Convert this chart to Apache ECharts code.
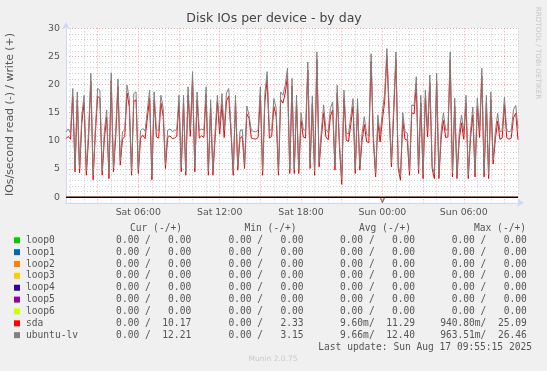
<!DOCTYPE html>
<html><head><meta charset="utf-8">
<script src="https://cdn.jsdelivr.net/npm/echarts@6/dist/echarts.min.js"></script>
<style>html,body{margin:0;padding:0;background:#f0f0f0}#c{width:547px;height:371px}</style>
</head><body><div id="c"></div>
<script>
// time axis: minutes since Sat 00:00; samples every 10 minutes from Sat 00:40
const START_MIN = 40;
const STEP_MIN = 10;
const END_MIN = 2040;
const xTickLabels = {360: 'Sat 06:00', 720: 'Sat 12:00', 1080: 'Sat 18:00', 1440: 'Sun 00:00', 1800: 'Sun 06:00'};
const yTickLabels = [0, 5, 10, 15, 20, 25, 30];

// ubuntu-lv write IOs/s
const lvWrite = [
 11.6,12.1,11.4,19.3,5.2,18.7,5.0,14.6,18.1,4.6,
 11.8,22.0,3.9,12.3,19.3,19.0,4.6,11.8,15.5,4.0,
 22.1,5.2,11.9,21.0,6.4,11.6,12.0,19.9,17.5,4.6,
 18.4,18.7,4.9,11.8,12.2,11.7,15.5,19.0,3.8,18.7,
 12.0,11.8,18.1,15.8,5.8,11.9,12.1,11.7,11.8,12.0,
 18.1,5.2,18.1,4.6,19.6,12.0,22.3,5.2,18.7,11.8,
 12.1,11.9,19.6,4.6,17.3,4.6,11.8,18.1,12.4,18.4,
 11.9,18.5,19.3,12.5,4.6,18.1,5.5,11.8,12.0,5.8,
 16.2,14.5,11.8,11.7,11.6,11.9,19.6,4.6,18.4,22.3,
 11.8,12.0,17.5,15.8,4.6,18.7,18.1,19.9,22.9,4.9,
 21.1,4.9,18.1,4.9,15.0,12.0,11.8,24.0,5.8,18.0,
 4.6,25.8,6.1,11.9,16.4,12.0,11.5,15.8,16.9,5.5,
 19.9,9.6,3.2,19.0,11.4,11.2,14.3,17.5,4.9,17.5,
 5.5,11.3,14.3,11.2,10.9,25.5,11.0,4.3,14.6,11.0,
 15.2,18.4,26.4,15.8,6.1,16.2,25.8,5.8,3.7,15.0,
 11.6,11.4,4.6,16.4,16.2,21.4,4.9,18.1,4.0,19.0,
 12.0,21.7,5.8,4.0,22.0,4.0,11.8,15.0,11.9,12.0,
 25.8,4.3,17.6,4.0,11.5,14.6,11.6,18.1,4.0,11.8,
 16.0,4.3,17.6,11.9,22.9,4.3,18.1,4.0,18.7,6.6,
 11.7,14.9,11.6,11.8,17.8,11.9,11.6,11.8,15.5,16.3,
 12.2
];
// sda write IOs/s
const sdaWrite = [
 10.4,10.8,10.3,17.9,4.5,17.3,4.3,13.2,16.8,3.9,
 10.6,20.6,3.1,11.4,17.9,17.6,3.9,10.5,14.2,3.3,
 20.7,4.5,10.7,19.6,5.7,10.3,10.8,18.5,16.1,3.9,
 17.0,17.3,4.2,10.5,11.0,10.4,14.1,17.6,3.1,17.3,
 10.7,10.5,16.7,14.4,5.1,10.6,10.9,10.4,10.5,10.8,
 16.7,4.5,16.7,3.9,18.2,10.8,20.9,4.5,17.3,10.5,
 10.9,10.6,18.2,3.9,15.9,3.9,10.5,16.9,11.2,16.5,
 10.6,17.1,17.9,11.4,3.9,16.7,4.8,10.5,10.8,5.1,
 14.8,14.0,10.5,10.4,10.3,10.6,18.2,3.9,17.0,20.9,
 10.5,10.8,16.1,14.4,3.9,17.3,16.7,18.5,21.5,4.2,
 19.7,4.2,16.7,4.2,13.6,10.7,10.5,22.6,5.1,16.6,
 3.9,24.4,5.4,10.6,15.0,10.7,10.2,14.4,15.5,4.8,
 18.5,8.8,2.3,17.6,10.1,9.9,12.9,16.1,4.2,16.1,
 4.8,10.0,12.9,9.9,9.7,24.1,9.8,3.6,13.2,9.8,
 13.8,17.0,25.1,14.4,5.4,14.8,24.4,5.1,3.0,13.6,
 10.3,10.1,3.9,15.0,14.8,20.0,4.2,16.7,3.3,17.6,
 10.7,20.3,5.1,3.3,20.6,3.3,10.5,13.6,10.6,10.7,
 24.4,3.6,16.2,3.3,10.2,13.2,10.3,16.7,3.3,10.5,
 14.6,3.6,16.2,10.6,21.5,3.6,16.7,3.3,17.3,5.9,
 10.4,13.5,10.3,10.5,16.4,10.6,10.3,10.5,14.1,14.9,
 10.2
];
// read IOs/s (drawn below zero)
const sdaRead = [
 0,0,0,0,0,0,0,0,0,0, 0,0,0,0,0,0,0,0,0,0, 0,0,0,0,0,0,0,0,0,0, 0,0,0,0,0,0,0,0,0,0,
 0,0,0,0,0,0,0,0,0,0, 0,0,0,0,0,0,0,0,0,0, 0,0,0,0,0,0,0,0,0,0, 0,0,0,0,0,0,0,0,0,0,
 0,0,0,0,0,0,0,0,0,0, 0,0,0,0,0,0,0,0,0,0, 0,0,0,0,0,0,0,0,0,0, 0,0,0,0,0,0,0,0,0,0,
 0,0,0,0,0,0,0,0,0,0, 0,0,0,0,0,0,0,0,0,0, 0.94,0,0,0,0,0,0,0,0,0, 0,0,0,0,0,0,0,0,0,0,
 0,0,0,0,0,0,0,0,0,0, 0,0,0,0,0,0,0,0,0,0, 0,0,0,0,0,0,0,0,0,0, 0,0,0,0,0,0,0,0,0,0,
 0
];
const lvRead = [
 0,0,0,0,0,0,0,0,0,0, 0,0,0,0,0,0,0,0,0,0, 0,0,0,0,0,0,0,0,0,0, 0,0,0,0,0,0,0,0,0,0,
 0,0,0,0,0,0,0,0,0,0, 0,0,0,0,0,0,0,0,0,0, 0,0,0,0,0,0,0,0,0,0, 0,0,0,0,0,0,0,0,0,0,
 0,0,0,0,0,0,0,0,0,0, 0,0,0,0,0,0,0,0,0,0, 0,0,0,0,0,0,0,0,0,0, 0,0,0,0,0,0,0,0,0,0,
 0,0,0,0,0,0,0,0,0,0, 0,0,0,0,0,0,0,0,0,0, 0.96,0,0,0,0,0,0,0,0,0, 0,0,0,0,0,0,0,0,0,0,
 0,0,0,0,0,0,0,0,0,0, 0,0,0,0,0,0,0,0,0,0, 0,0,0,0,0,0,0,0,0,0, 0,0,0,0,0,0,0,0,0,0,
 0
];
// loop devices: idle all day
const loopValues = [
 0,0,0,0,0,0,0,0,0,0, 0,0,0,0,0,0,0,0,0,0, 0,0,0,0,0,0,0,0,0,0, 0,0,0,0,0,0,0,0,0,0,
 0,0,0,0,0,0,0,0,0,0, 0,0,0,0,0,0,0,0,0,0, 0,0,0,0,0,0,0,0,0,0, 0,0,0,0,0,0,0,0,0,0,
 0,0,0,0,0,0,0,0,0,0, 0,0,0,0,0,0,0,0,0,0, 0,0,0,0,0,0,0,0,0,0, 0,0,0,0,0,0,0,0,0,0,
 0,0,0,0,0,0,0,0,0,0, 0,0,0,0,0,0,0,0,0,0, 0,0,0,0,0,0,0,0,0,0, 0,0,0,0,0,0,0,0,0,0,
 0,0,0,0,0,0,0,0,0,0, 0,0,0,0,0,0,0,0,0,0, 0,0,0,0,0,0,0,0,0,0, 0,0,0,0,0,0,0,0,0,0,
 0
];

// legend table
const deviceNames = ['loop0','loop1','loop2','loop3','loop4','loop5','loop6','sda','ubuntu-lv'];
const deviceColors = ['#00cc00','#0066b3','#ff8000','#ffcc00','#330099','#990099','#ccff00','#ff0000','#808080'];
const curRead  = [0,0,0,0,0,0,0,0,0];
const curWrite = [0,0,0,0,0,0,0,10.17,12.21];
const minRead  = [0,0,0,0,0,0,0,0,0];
const minWrite = [0,0,0,0,0,0,0,2.33,3.15];
const avgRead  = [0,0,0,0,0,0,0,0.00960,0.00966];
const avgWrite = [0,0,0,0,0,0,0,11.29,12.40];
const maxRead  = [0,0,0,0,0,0,0,0.94080,0.96351];
const maxWrite = [0,0,0,0,0,0,0,25.09,26.46];
const colHeaders = ['Cur (-/+)','Min (-/+)','Avg (-/+)','Max (-/+)'];
const titleText = 'Disk IOs per device - by day';
const yAxisTitle = 'IOs/second read (-) / write (+)';
const lastUpdate = 'Last update: Sun Aug 17 09:55:15 2025';
const vendorText = 'RRDTOOL / TOBI OETIKER';
const footerText = 'Munin 2.0.75';

function xy(arr, sign) {
  return arr.map((v, i) => [START_MIN + i * STEP_MIN, sign * v]);
}
function fmtRead(v) {
  if (v !== 0 && Math.abs(v) < 1) return (v * 1000).toFixed(2) + 'm';
  return v.toFixed(2) + ' ';
}
function fmtWrite(v) {
  return v.toFixed(2).padStart(7, ' ');
}
function cell(r, w) { return fmtRead(r) + '/' + fmtWrite(w); }

const chart = echarts.init(document.getElementById('c'), null, {renderer: 'canvas'});

const MINOR = 'rgba(190,190,190,0.75)';
const MAJOR = 'rgba(255,120,120,0.7)';
const NONE = 'rgba(0,0,0,0)';
const TEXT = '#555';
const MONO = '9.6px "DejaVu Sans Mono"';

const series = [];
deviceNames.slice(0, 7).forEach((n, k) => {
  series.push({name: n, type: 'line', data: xy(loopValues, 1), showSymbol: false,
    lineStyle: {width: 1, color: deviceColors[k]}, itemStyle: {color: deviceColors[k]}, silent: true});
});
series.push({name: 'sda read', type: 'line', data: xy(sdaRead, -1), showSymbol: false,
  lineStyle: {width: 1, color: deviceColors[7]}, silent: true});
series.push({name: 'ubuntu-lv read', type: 'line', data: xy(lvRead, -1), showSymbol: false,
  lineStyle: {width: 1, color: deviceColors[8]}, silent: true});
series.push({name: 'sda', type: 'line', data: xy(sdaWrite, 1), showSymbol: false,
  lineStyle: {width: 1, color: deviceColors[7]}, silent: true});
series.push({name: 'ubuntu-lv', type: 'line', data: xy(lvWrite, 1), showSymbol: false,
  lineStyle: {width: 1, color: deviceColors[8]}, silent: true,
  markLine: {silent: true, symbol: ['none','none'], label: {show: false},
    lineStyle: {color: '#000', width: 1, type: 'solid'}, data: [{yAxis: 0}]}});

// graphics: title, axis title, legend table
const g = [];
g.push({type: 'text', x: 274, y: 19, style: {text: titleText, font: '12.5px "DejaVu Sans"', fill: '#444',
  align: 'center', verticalAlign: 'middle', textAlign: 'center', textVerticalAlign: 'middle'}});
g.push({type: 'text', x: 10.5, y: 114.5, rotation: Math.PI / 2, style: {text: yAxisTitle, font: '10.9px "DejaVu Sans"', fill: TEXT,
  align: 'center', verticalAlign: 'middle', textAlign: 'center', textVerticalAlign: 'middle'}});
g.push({type: 'text', x: 538, y: 53, rotation: -Math.PI / 2, style: {text: vendorText, font: '7.2px "DejaVu Sans"', fill: '#c8c8c8',
  align: 'center', verticalAlign: 'middle', textAlign: 'center', textVerticalAlign: 'middle'}});
const headerEnds = [182, 296.5, 411, 526];
const colEnds = [191.2, 303.5, 415.1, 526.8];
const headerY = 228.5, rowY0 = 240.3, rowH = 11.86;
colHeaders.forEach((h, c) => {
  g.push({type: 'text', x: headerEnds[c], y: headerY, style: {text: h, font: MONO, fill: TEXT,
    align: 'right', verticalAlign: 'middle', textAlign: 'right', textVerticalAlign: 'middle'}});
});
deviceNames.forEach((n, r) => {
  const y = rowY0 + r * rowH;
  g.push({type: 'rect', shape: {x: 14, y: y - 3, width: 6, height: 6}, style: {fill: deviceColors[r]}});
  g.push({type: 'text', x: 26, y: y, style: {text: n, font: MONO, fill: TEXT,
    align: 'left', verticalAlign: 'middle', textAlign: 'left', textVerticalAlign: 'middle'}});
  const cells = [cell(curRead[r], curWrite[r]), cell(minRead[r], minWrite[r]),
                 cell(avgRead[r], avgWrite[r]), cell(maxRead[r], maxWrite[r])];
  cells.forEach((t, c) => {
    g.push({type: 'text', x: colEnds[c], y: y, style: {text: t, font: MONO, fill: TEXT,
      align: 'right', verticalAlign: 'middle', textAlign: 'right', textVerticalAlign: 'middle'}});
  });
});
g.push({type: 'text', x: 532, y: rowY0 + deviceNames.length * rowH, style: {text: lastUpdate, font: MONO, fill: TEXT,
  align: 'right', verticalAlign: 'middle', textAlign: 'right', textVerticalAlign: 'middle'}});
g.push({type: 'text', x: 273, y: 359.5, style: {text: footerText, font: '7.5px "DejaVu Sans"', fill: '#c8c8c8',
  align: 'center', verticalAlign: 'middle', textAlign: 'center', textVerticalAlign: 'middle'}});

chart.setOption({
  backgroundColor: '#f0f0f0',
  animation: false,
  grid: {left: 66, right: 29, top: 28.3, bottom: 168.2, show: true, backgroundColor: '#ffffff', borderWidth: 0},
  xAxis: {
    type: 'value', min: START_MIN, max: END_MIN, interval: 20,
    axisLine: {show: true, onZero: false, symbol: ['none', 'arrow'], symbolSize: [6, 7], symbolOffset: [0, 6],
      lineStyle: {color: '#cfd6f8', width: 1}},
    axisTick: {show: false},
    axisLabel: {margin: 5, color: TEXT, fontFamily: 'DejaVu Sans', fontSize: 9.4,
      showMinLabel: true, showMaxLabel: true,
      formatter: v => xTickLabels[Math.round(v)] || ''},
    splitLine: {show: true, lineStyle: {type: [1, 2], width: 1,
      color: [NONE, MINOR, NONE, NONE, MINOR, NONE, NONE, MAJOR, NONE]}}
  },
  yAxis: {
    type: 'value', min: -1, max: 30, interval: 1,
    axisLine: {show: true, symbol: ['none', 'arrow'], symbolSize: [6, 7], symbolOffset: [0, 6],
      lineStyle: {color: '#cfd6f8', width: 1}},
    axisTick: {show: false},
    axisLabel: {margin: 6, color: TEXT, fontFamily: 'DejaVu Sans', fontSize: 9.4,
      formatter: v => yTickLabels.indexOf(Math.round(v)) >= 0 ? String(Math.round(v)) : ''},
    splitLine: {show: true, lineStyle: {type: [1, 2], width: 1,
      color: [MINOR, MAJOR, MINOR, MINOR, MINOR]}}
  },
  series: series,
  graphic: g
});
</script></body></html>
